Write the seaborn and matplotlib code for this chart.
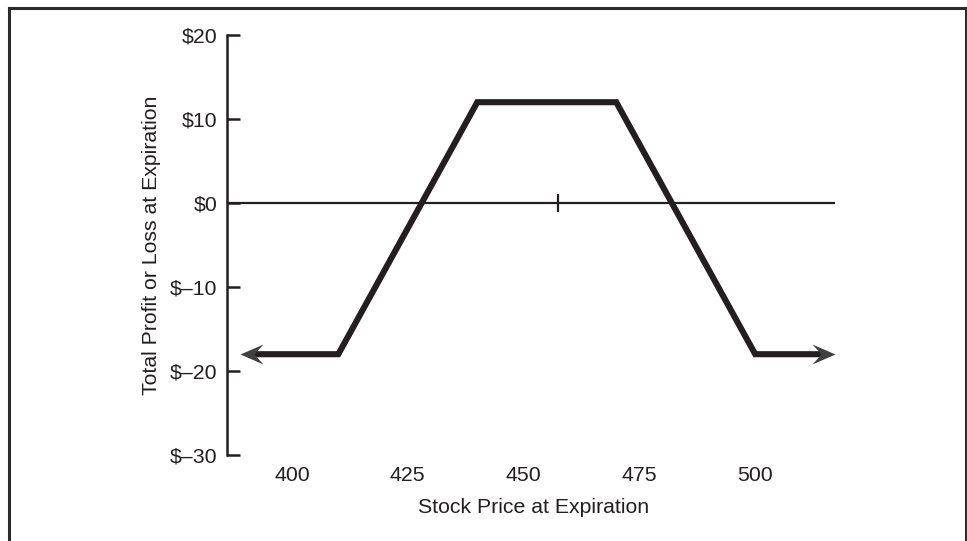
import matplotlib
matplotlib.use("Agg")
import matplotlib.pyplot as plt
from matplotlib.lines import Line2D
from matplotlib.path import Path
import seaborn as sns
import pandas as pd

# ---- data ----
price = [391, 410, 440, 470, 500, 515]
profit = [-18, -18, 12, 12, -18, -18]
x_ticks = [400, 425, 450, 475, 500]
x_tick_labels = ["400", "425", "450", "475", "500"]
y_ticks = [20, 10, 0, -10, -20, -30]
y_tick_labels = ["$20", "$10", "$0", "$\u201310", "$\u201320", "$\u201330"]
zero_line_end = 517.2
current_price = 457.4

sns.set_theme(style="white")
plt.rcParams["font.family"] = ["Liberation Sans", "DejaVu Sans"]

ink = "#231f20"
FS = 15.3
W, H = 967, 541
fig = plt.figure(figsize=(W / 100, H / 100), dpi=100)
ax = fig.add_axes([227 / W, (H - 455) / H, (840 - 227) / W, 420 / H])

df = pd.DataFrame({"price": price, "profit": profit})
sns.lineplot(data=df, x="price", y="profit", sort=False, estimator=None,
             color=ink, lw=4.4, ax=ax, zorder=3,
             solid_joinstyle="miter", solid_capstyle="butt")

xmin = 385.97
ax.set_xlim(xmin, 518.3)
ax.set_ylim(-30, 20)

ax.hlines(0, xmin, zero_line_end, color=ink, lw=1.6, zorder=2)
ax.plot([current_price], [0], marker="|", markersize=13, markeredgewidth=1.6,
        color=ink, zorder=2)

# notched arrowheads (tip extends beyond the line end)
left_head = Path([(-10, 0), (13, 10), (4, 0), (13, -10), (-10, 0)],
                 [Path.MOVETO, Path.LINETO, Path.LINETO, Path.LINETO, Path.CLOSEPOLY])
right_head = Path([(10, 0), (-13, 10), (-4, 0), (-13, -10), (10, 0)],
                  [Path.MOVETO, Path.LINETO, Path.LINETO, Path.LINETO, Path.CLOSEPOLY])
head_col = "#404040"
ax.plot([price[0]], [profit[0]], marker=left_head, markersize=18.7,
        markeredgewidth=0, color=head_col, zorder=5, linestyle="none")
ax.plot([price[-1]], [profit[-1]], marker=right_head, markersize=18.7,
        markeredgewidth=0, color=head_col, zorder=5, linestyle="none")

for s in ["top", "right", "bottom"]:
    ax.spines[s].set_visible(False)
ax.spines["left"].set_color(ink)
ax.spines["left"].set_linewidth(1.8)

ax.set_yticks(y_ticks)
ax.set_yticklabels(y_tick_labels)
ax.set_xticks(x_ticks)
ax.set_xticklabels(x_tick_labels)
ax.tick_params(axis="y", direction="in", length=9.5, width=1.8, color=ink,
               pad=7, labelsize=FS, labelcolor=ink, left=True)
ax.tick_params(axis="x", length=0, pad=8, labelsize=FS, labelcolor=ink)

ax.set_xlabel("Stock Price at Expiration", fontsize=FS, color=ink, labelpad=9)
ax.set_ylabel("Total Profit or Loss at Expiration", fontsize=FS, color=ink, labelpad=6)
ax.grid(False)

# figure frame
fc = "#2b2b2b"
fig.add_artist(Line2D([8.5 / W, 8.5 / W], [0, 1 - 7.5 / H], transform=fig.transFigure,
                      color=fc, lw=2.2, solid_capstyle="projecting"))
fig.add_artist(Line2D([8.5 / W, 965.5 / W], [1 - 7.5 / H, 1 - 7.5 / H], transform=fig.transFigure,
                      color=fc, lw=2.2, solid_capstyle="projecting"))
fig.add_artist(Line2D([965.5 / W, 965.5 / W], [0, 1 - 7.5 / H], transform=fig.transFigure,
                      color=fc, lw=2.2, solid_capstyle="projecting"))

fig.savefig("out.png", dpi=100)
